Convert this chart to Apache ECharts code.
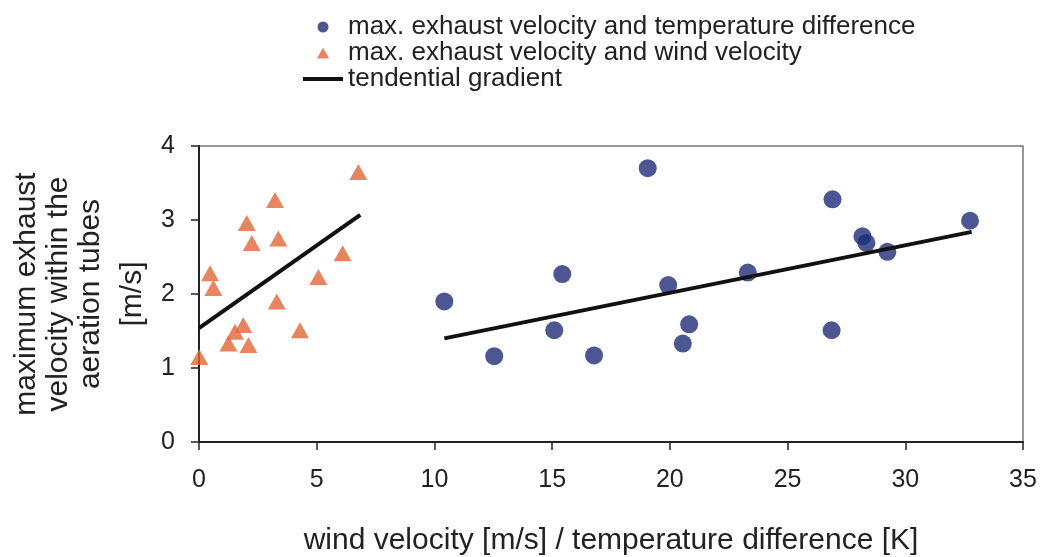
<!DOCTYPE html>
<html>
<head>
<meta charset="utf-8">
<script src="https://cdn.jsdelivr.net/npm/echarts@6.0.0/dist/echarts.min.js"></script>
<style>
  html, body { margin: 0; padding: 0; background: #fff; }
  #chart { width: 1043px; height: 557px; }
</style>
</head>
<body>
<div id="chart"></div>
<script>
// wind velocity [m/s] vs max. exhaust velocity [m/s] (triangles)
const windX = [0.01, 0.47, 0.61, 1.25, 1.53, 1.88, 2.03, 2.10, 2.24, 3.23, 3.30, 3.37, 4.29, 5.07, 6.10, 6.77];
const windY = [1.15, 2.28, 2.08, 1.33, 1.49, 1.58, 2.96, 1.31, 2.69, 3.27, 1.90, 2.75, 1.51, 2.23, 2.55, 3.65];

// temperature difference [K] vs max. exhaust velocity [m/s] (circles)
const tempX = [10.42, 12.54, 15.09, 15.43, 16.78, 19.06, 19.93, 20.55, 20.82, 23.31, 26.87, 26.91, 28.18, 28.35, 29.24, 32.75];
const tempY = [1.90, 1.16, 1.51, 2.27, 1.17, 3.70, 2.12, 1.33, 1.59, 2.29, 1.51, 3.28, 2.78, 2.69, 2.57, 2.99];

// tendential gradients (end points)
const trendWind = [[0, 1.54], [6.85, 3.07]];
const trendTemp = [[10.42, 1.40], [32.82, 2.84]];

const nameTemp = 'max. exhaust velocity and temperature difference';
const nameWind = 'max. exhaust velocity and wind velocity';
const nameTrend = 'tendential gradient';

const font = 'Liberation Sans';
const textColor = '#222';

const chart = echarts.init(document.getElementById('chart'));

const option = {
    animation: false,
    backgroundColor: '#fff',
    textStyle: { fontFamily: font },
    legend: {
        orient: 'vertical',
        left: 303,
        top: 14,
        padding: 0,
        itemGap: 0,
        itemWidth: 40,
        itemHeight: 11,
        itemStyle: { borderWidth: 0 },
        textStyle: { fontSize: 26, lineHeight: 25, color: textColor, fontFamily: font },
        data: [
            { name: nameTemp, icon: 'circle' },
            { name: nameWind, icon: 'path://M5,0L10,9L0,9Z' },
            { name: nameTrend, icon: 'path://M0,0H40V4H0Z' }
        ]
    },
    grid: {
        left: 199,
        right: 20,
        top: 146,
        bottom: 115,
        show: true,
        borderColor: '#777',
        borderWidth: 1.5,
        outerBoundsMode: 'none'
    },
    xAxis: {
        type: 'value',
        min: 0,
        max: 35,
        interval: 5,
        name: 'wind velocity [m/s] / temperature difference [K]',
        nameLocation: 'middle',
        nameGap: 84,
        nameTextStyle: { fontSize: 30, color: textColor, fontFamily: font },
        axisLine: { show: true, lineStyle: { color: '#222', width: 2 } },
        axisTick: { show: true, inside: false, length: 8, lineStyle: { color: '#222', width: 1.5 } },
        axisLabel: { fontSize: 25, color: textColor, margin: 26, fontFamily: font },
        splitLine: { show: false }
    },
    yAxis: {
        type: 'value',
        min: 0,
        max: 4,
        interval: 1,
        name: '{a|maximum exhaust}\n{a|velocity within the}\n{a|aeration tubes}\n{b|[m/s]}',
        nameLocation: 'middle',
        nameRotate: 90,
        nameGap: 40,
        nameTextStyle: {
            fontSize: 30,
            color: textColor,
            fontFamily: font,
            rich: {
                a: { fontSize: 30, lineHeight: 32, color: textColor, fontFamily: font },
                b: { fontSize: 30, lineHeight: 52, color: textColor, fontFamily: font }
            }
        },
        axisLine: { show: true, lineStyle: { color: '#222', width: 2 } },
        axisTick: { show: true, inside: false, length: 8, lineStyle: { color: '#222', width: 1.5 } },
        axisLabel: { fontSize: 25, color: textColor, margin: 24, fontFamily: font },
        splitLine: { show: false }
    },
    series: [
        {
            name: nameTemp,
            type: 'scatter',
            symbol: 'circle',
            symbolSize: 18,
            itemStyle: { color: '#1f2c78' },
            data: tempX.map((x, i) => [x, tempY[i]])
        },
        {
            name: nameWind,
            type: 'scatter',
            symbol: 'triangle',
            symbolSize: [18, 16],
            itemStyle: { color: '#e2663a' },
            data: windX.map((x, i) => [x, windY[i]])
        },
        {
            name: nameTrend,
            type: 'line',
            symbol: 'none',
            z: 5,
            color: '#111',
            lineStyle: { color: '#111', width: 4 },
            data: trendWind
        },
        {
            name: nameTrend,
            type: 'line',
            symbol: 'none',
            z: 5,
            color: '#111',
            lineStyle: { color: '#111', width: 4 },
            data: trendTemp
        }
    ]
};

chart.setOption(option);
</script>
</body>
</html>
